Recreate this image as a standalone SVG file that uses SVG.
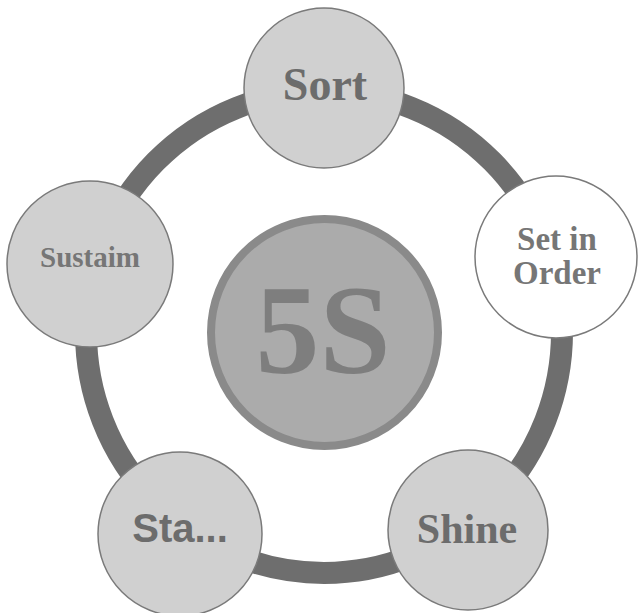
<svg xmlns="http://www.w3.org/2000/svg" width="643" height="613" viewBox="0 0 643 613">
  <style>
    .ring { fill: none; stroke: #6e6e6e; stroke-width: 22; }
    .node { fill: #d0d0d0; stroke: #7a7a7a; stroke-width: 1.5; }
    .node-white { fill: #ffffff; stroke: #7a7a7a; stroke-width: 1.5; }
    .serif { font-family: "Liberation Serif", "Times New Roman", serif; font-weight: bold; text-anchor: middle; fill: #6c6c6c; }
    .sans { font-family: "Liberation Sans", Arial, sans-serif; font-weight: bold; text-anchor: middle; fill: #6c6c6c; }
  </style>
  <rect width="643" height="613" fill="#ffffff"/>
  <g id="connectors">
    <ellipse class="ring" cx="324" cy="332" rx="238" ry="241"/>
  </g>
  <g id="center">
    <circle cx="324.5" cy="332.5" r="113.5" fill="#ababab" stroke="#8a8a8a" stroke-width="8"/>
    <text class="serif" x="323" y="373" font-size="128" fill="#7d7d7d" style="fill:#7e7e7e">5S</text>
  </g>
  <g id="sort">
    <circle class="node" cx="324" cy="88" r="80"/>
    <text class="serif" x="325" y="100" font-size="46">Sort</text>
  </g>
  <g id="set-in-order">
    <circle class="node-white" cx="556" cy="257" r="81"/>
    <text class="serif" x="557" y="250" font-size="33" style="fill:#767676">Set in</text>
    <text class="serif" x="557" y="284" font-size="33" style="fill:#767676">Order</text>
  </g>
  <g id="shine">
    <circle class="node" cx="468" cy="530" r="80"/>
    <text class="serif" x="467" y="543" font-size="42">Shine</text>
  </g>
  <g id="standardize">
    <circle class="node" cx="180" cy="534" r="82"/>
    <text class="sans" x="180" y="542" font-size="40">Sta...</text>
  </g>
  <g id="sustain">
    <circle class="node" cx="90" cy="264" r="83"/>
    <text class="serif" x="90" y="267" font-size="29" style="fill:#767676">Sustaim</text>
  </g>
</svg>
